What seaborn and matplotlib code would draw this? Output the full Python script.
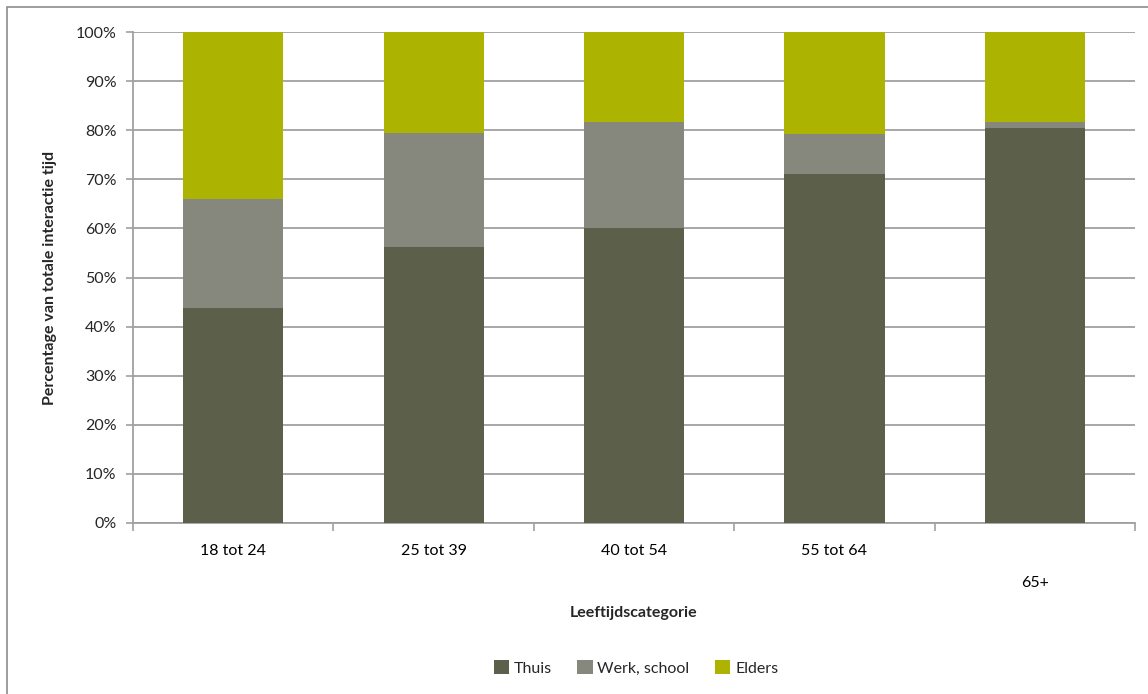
import numpy as np
import pandas as pd
import seaborn as sns
import matplotlib
matplotlib.use('Agg')
import matplotlib.pyplot as plt
from matplotlib.patches import Rectangle, Patch
from matplotlib.ticker import MultipleLocator, PercentFormatter

# Data (percent of total interaction time)
categories = ["18 tot 24", "25 tot 39", "40 tot 54", "55 tot 64", "65+"]
thuis = [43.8, 56.2, 60.1, 71.1, 80.4]
werk_school = [22.2, 23.2, 21.6, 8.2, 1.3]
elders = [34.0, 20.6, 18.3, 20.7, 18.3]

series_names = ["Thuis", "Werk, school", "Elders"]
colors = ["#5c604a", "#86877d", "#acb300"]

df = pd.DataFrame({"cat": categories, "Thuis": thuis,
                   "Werk, school": werk_school, "Elders": elders})
df["top_werk"] = df["Thuis"] + df["Werk, school"]
df["top_elders"] = df["top_werk"] + df["Elders"]

sns.set_theme(style="white")
plt.rcParams['font.family'] = ['Lato', 'DejaVu Sans']
FS = 11.5

fig = plt.figure(figsize=(11.48, 6.94), dpi=100)
ax = fig.add_axes([133 / 1148, 1 - 523 / 694, (1135 - 133) / 1148, (523 - 32) / 694])

# outer chart border
fig.patches.append(Rectangle((7 / 1148, -0.1), 1.2, 1 - 7 / 694 + 0.1,
                             transform=fig.transFigure, fill=False,
                             edgecolor="#8c8c8c", linewidth=1.2))

# stacked bars: draw cumulative totals back to front
for col, c in zip(["top_elders", "top_werk", "Thuis"], colors[::-1]):
    sns.barplot(data=df, x="cat", y=col, color=c, width=0.5, saturation=1,
                linewidth=0, edgecolor="none", ax=ax, zorder=3)

ax.set_ylim(0, 100)
ax.set_xlim(-0.5, 4.5)
ax.yaxis.set_major_locator(MultipleLocator(10))
ax.yaxis.set_major_formatter(PercentFormatter(decimals=0))
ax.grid(axis="y", color="#a0a0a0", linewidth=1.3, zorder=0)
ax.set_axisbelow(True)

for side in ["top", "right"]:
    ax.spines[side].set_visible(False)
for side in ["left", "bottom"]:
    ax.spines[side].set_color("#a0a0a0")
    ax.spines[side].set_linewidth(1.3)

ax.set_xticks(np.arange(-0.5, 5, 1), minor=True)
ax.tick_params(axis="x", which="major", length=0, pad=15, labelsize=FS, colors="black")
ax.tick_params(axis="x", which="minor", length=6, width=1.2, color="#a0a0a0", direction="out", bottom=True)
ax.tick_params(axis="y", which="major", length=5, width=1.2, color="#a0a0a0",
               direction="out", left=True, labelsize=FS, pad=7)
# Excel staggered the last label
ax.xaxis.get_major_ticks()[4].set_pad(38)

ax.set_xlabel("Leeftijdscategorie", fontsize=FS, fontweight="bold", labelpad=12)
ax.set_ylabel("Percentage van totale interactie tijd", fontsize=FS, fontweight="bold", labelpad=13)

handles = [Patch(facecolor=c, edgecolor="none") for c in colors]
fig.legend(handles, series_names, loc="center", bbox_to_anchor=(636 / 1148, 1 - 668 / 694),
           ncol=3, frameon=False, fontsize=FS, handlelength=0.95, handleheight=0.95,
           handletextpad=0.3, columnspacing=1.6)

fig.savefig("out.png", dpi=100)
